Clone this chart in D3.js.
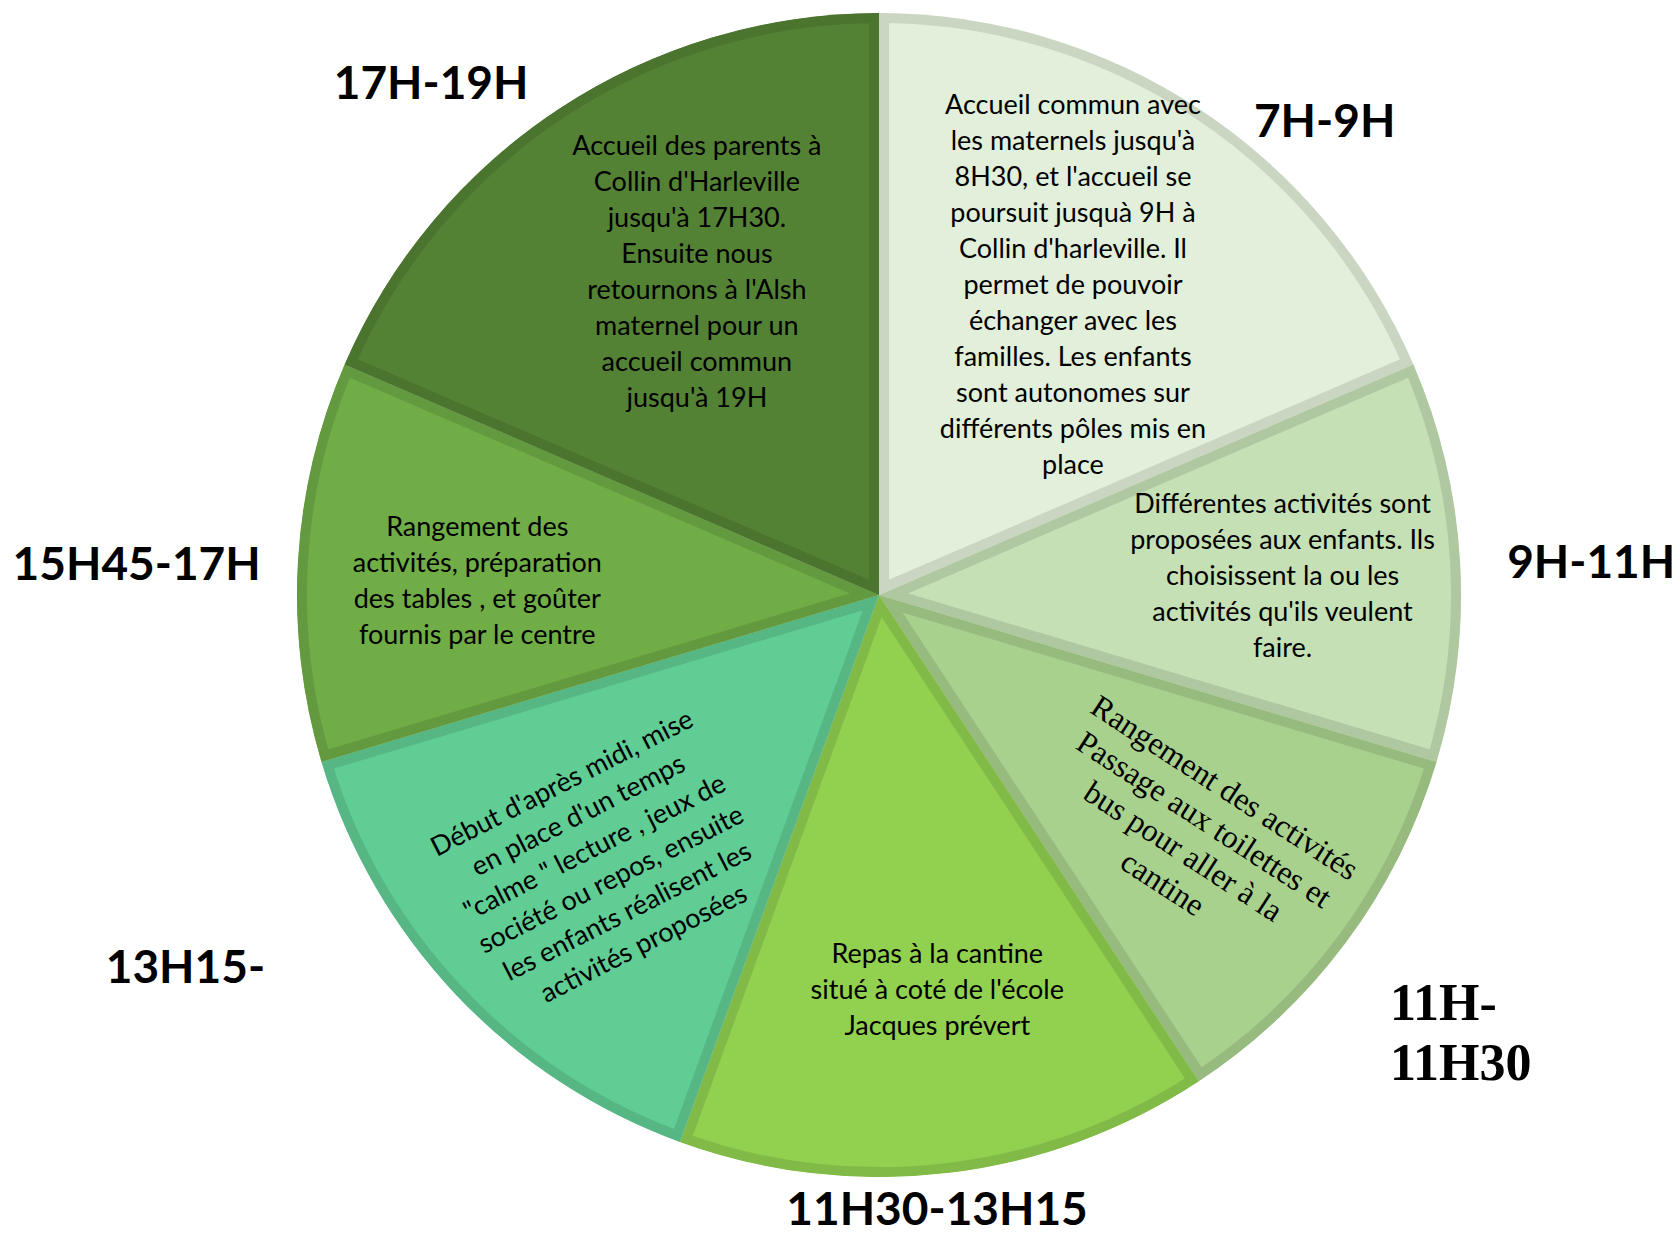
<!DOCTYPE html>
<html>
<head>
<meta charset="utf-8">
<script src="https://cdn.jsdelivr.net/npm/d3@7/dist/d3.min.js"></script>
<style>
  html, body { margin: 0; padding: 0; background: #ffffff; }
  svg { display: block; }
</style>
</head>
<body>
<script>
// ---- Data ----
const categories = ["7H-9H", "9H-11H", "11H-11H30", "11H30-13H15", "13H15-", "15H45-17H", "17H-19H"];
const values = [5, 3, 3, 4, 4, 3, 5];
const labelLines = [["7H-9H"], ["9H-11H"], ["11H-", "11H30"], ["11H30-13H15"], ["13H15-"], ["15H45-17H"], ["17H-19H"]];
const descriptions = [
  ["Accueil commun avec", "les maternels jusqu'à", "8H30, et l'accueil se", "poursuit jusquà 9H à", "Collin d'harleville. Il", "permet de pouvoir", "échanger avec les", "familles. Les enfants", "sont autonomes sur", "différents pôles mis en", "place"],
  ["Différentes activités sont", "proposées aux enfants. Ils", "choisissent la ou les", "activités qu'ils veulent", "faire."],
  ["Rangement des activités", "Passage aux toilettes et", "bus pour aller à la", "cantine"],
  ["Repas à la cantine", "situé à coté de l'école", "Jacques prévert"],
  ["Début d'après midi, mise", "en place d'un temps", "\"calme \" lecture , jeux de", "société ou repos, ensuite", "les enfants réalisent les", "activités proposées"],
  ["Rangement des", "activités, préparation", "des tables , et goûter", "fournis par le centre"],
  ["Accueil des parents à", "Collin d'Harleville", "jusqu'à 17H30.", "Ensuite nous", "retournons à l'Alsh", "maternel pour un", "accueil commun", "jusqu'à 19H"]
];
const fills = ["#e2efda", "#c5e0b4", "#a9d18e", "#92d050", "#60cd95", "#70ad47", "#548235"];

// ---- Layout (not data) ----
const W = 1676, H = 1236;
const cx = 879, cy = 595, R = 582, borderW = 10;
const labelPolar = [[43.2, 651], [87.3, 713], [130.5, 672], [174.6, 617], [241.8, 787], [272.4, 743], [318.8, 680]];
const labelAnchor = ["middle", "middle", "start", "middle", "middle", "middle", "middle"];
const textPolar = [[32, 366], [87.3, 404], [127.3, 396], [171.6, 399], [225.9, 385], [272.1, 402], [330.6, 371]];
const textRotate = [0, 0, 33, 0, -27, 0, 0];
const serifSlices = [2];

const sansFont = "Lato, 'Open Sans', sans-serif";
const serifFont = "'Liberation Serif', 'Times New Roman', serif";
const bodySize = 27, bodyLine = 36;
const labelSize = 46;
const serifBody = 32, serifLine = 38;
const serifLabel = 52, serifLabelLine = 60;

function polar(angDeg, r) {
  const a = angDeg * Math.PI / 180;
  return [cx + r * Math.sin(a), cy - r * Math.cos(a)];
}

const svg = d3.select("body").append("svg").attr("width", W).attr("height", H);
svg.append("rect").attr("width", W).attr("height", H).attr("fill", "#ffffff");

const pie = d3.pie().sort(null).value(d => d).startAngle(0).endAngle(2 * Math.PI);
const arcs = pie(values);
const arc = d3.arc().innerRadius(0).outerRadius(R);

const g = svg.append("g").attr("transform", `translate(${cx},${cy})`);
const defs = svg.append("defs");

arcs.forEach((a, i) => {
  defs.append("clipPath").attr("id", "clip" + i)
    .append("path").attr("d", arc(a));
});

g.selectAll("path.slice").data(arcs).enter().append("path")
  .attr("class", "slice")
  .attr("d", arc)
  .attr("fill", (d, i) => fills[i])
  .attr("stroke", (d, i) => d3.color(fills[i]).darker(0.32).formatHex())
  .attr("stroke-width", borderW * 2)
  .attr("stroke-linejoin", "miter")
  .attr("clip-path", (d, i) => `url(#clip${i})`);

// descriptions
descriptions.forEach((lines, i) => {
  const serif = serifSlices.includes(i);
  const fs = serif ? serifBody : bodySize;
  const lh = serif ? serifLine : bodyLine;
  const [x, y] = polar(textPolar[i][0], textPolar[i][1]);
  const t = svg.append("text")
    .attr("transform", `translate(${x},${y}) rotate(${textRotate[i]})`)
    .attr("text-anchor", "middle")
    .attr("font-family", serif ? serifFont : sansFont)
    .attr("font-size", fs)
    .attr("fill", "#000000");
  const n = lines.length;
  lines.forEach((ln, k) => {
    t.append("tspan").attr("x", 0)
      .attr("y", (k - (n - 1) / 2) * lh + fs * 0.35)
      .text(ln);
  });
});

// outer labels
labelLines.forEach((lines, i) => {
  const serif = serifSlices.includes(i);
  const fs = serif ? serifLabel : labelSize;
  const lh = serif ? serifLabelLine : labelSize;
  const [x, y] = polar(labelPolar[i][0], labelPolar[i][1]);
  const t = svg.append("text")
    .attr("text-anchor", labelAnchor[i])
    .attr("font-family", serif ? serifFont : sansFont)
    .attr("font-weight", "bold")
    .attr("font-size", fs)
    .attr("fill", "#000000");
  const n = lines.length;
  lines.forEach((ln, k) => {
    t.append("tspan").attr("x", x)
      .attr("y", y + (k - (n - 1) / 2) * lh + fs * 0.35)
      .text(ln);
  });
});
</script>
</body>
</html>
